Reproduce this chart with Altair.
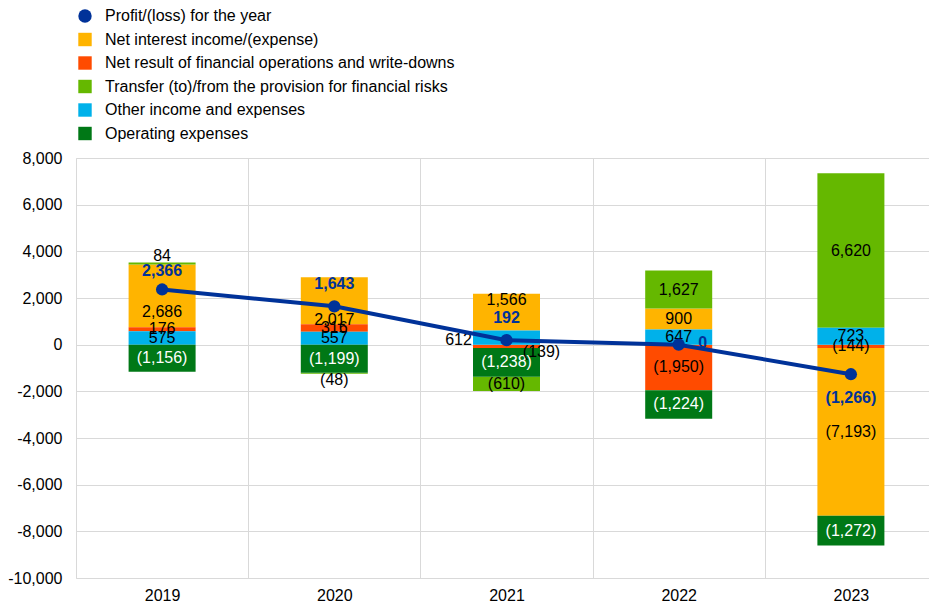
import altair as alt
import pandas as pd

# ---------------- data ----------------
years = ["2019", "2020", "2021", "2022", "2023"]
net_interest = [2686, 2017, 1566, 900, -7193]
net_result_fin_ops = [176, 316, -139, -1950, -144]
transfer_provision = [84, -48, -610, 1627, 6620]
other_income = [575, 557, 612, 647, 723]
operating_expenses = [-1156, -1199, -1238, -1224, -1272]
profit = [2366, 1643, 192, 0, -1266]

S_PROFIT = "Profit/(loss) for the year"
S_NII = "Net interest income/(expense)"
S_NRFO = "Net result of financial operations and write-downs"
S_TRANS = "Transfer (to)/from the provision for financial risks"
S_OTHER = "Other income and expenses"
S_OPEX = "Operating expenses"

legend_order = [S_PROFIT, S_NII, S_NRFO, S_TRANS, S_OTHER, S_OPEX]
colors = ["#003299", "#FFB400", "#FF4B00", "#65B800", "#00B1EA", "#007816"]
shapes = ["circle", "square", "square", "square", "square", "square"]

# stacking order (from zero outwards)
stack_order = {S_OTHER: 0, S_NRFO: 1, S_NII: 2, S_OPEX: 3, S_TRANS: 4}
series_values = {
    S_NII: net_interest,
    S_NRFO: net_result_fin_ops,
    S_TRANS: transfer_provision,
    S_OTHER: other_income,
    S_OPEX: operating_expenses,
}


def fmt(v):
    return f"{v:,}" if v >= 0 else f"({-v:,})"


rows = []
for s, vals in series_values.items():
    for y, v in zip(years, vals):
        rows.append({"year": y, "series": s, "value": v, "order": stack_order[s], "label": fmt(v)})
bars_df = pd.DataFrame(rows)

profit_df = pd.DataFrame({
    "year": years,
    "series": [S_PROFIT] * len(years),
    "value": profit,
    "label": [fmt(v) for v in profit],
})

FONT = "Liberation Sans"
FS = 16

x_enc = alt.X(
    "year:N",
    scale=alt.Scale(domain=years, paddingInner=0, paddingOuter=0, range=[0, 861]),
    axis=alt.Axis(
        title=None, labelAngle=0, ticks=False, domain=False, grid=True,
        tickBand="extent", gridColor="#d9d9d9", labelPadding=9,
        labelFontSize=FS, labelColor="#000000", labelFont=FONT,
    ),
)
y_scale = alt.Scale(domain=[-10000, 8000], nice=False, zero=False)
y_axis = alt.Axis(
    title=None, values=list(range(-10000, 8001, 2000)),
    labelExpr="replace(format(datum.value, ',.0f'), '\u2212', '-')",
    grid=True, gridColor="#d9d9d9", domainColor="#d9d9d9", ticks=False,
    labelPadding=14, labelFontSize=FS, labelColor="#000000", labelFont=FONT,
)
color_scale = alt.Scale(domain=legend_order, range=colors)
shape_scale = alt.Scale(domain=legend_order, range=shapes)

stacked = alt.Chart(bars_df).transform_stack(
    stack="value", groupby=["year"], sort=[alt.SortField("order", "ascending")],
    as_=["y0", "y1"], offset="zero",
).transform_calculate(mid="(datum.y0 + datum.y1) / 2")

bars = stacked.mark_bar(size=67).encode(
    x=x_enc,
    y=alt.Y("y0:Q", scale=y_scale, axis=y_axis),
    y2="y1:Q",
    color=alt.Color("series:N", scale=color_scale, title=None),
)


def seg_labels(filter_expr, dx=0, dy=0):
    return stacked.transform_filter(filter_expr).mark_text(
        dx=dx, dy=dy, fontSize=FS, font=FONT, baseline="middle", align="center"
    ).encode(
        x=alt.X("year:N"),
        y=alt.Y("mid:Q"),
        text="label:N",
        color=alt.condition(alt.datum.series == S_OPEX, alt.value("white"), alt.value("black")),
    )


def is_(year, series):
    return f"(datum.year == '{year}' && datum.series == '{series}')"


exceptions = [
    (is_("2019", S_TRANS), 0, -7),
    (is_("2019", S_NII), 0, 16),
    (is_("2020", S_NII), 0, 19),
    (is_("2020", S_TRANS), 0, 7),
    (is_("2021", S_NII), 0, -12),
    (is_("2021", S_OTHER), -48, 2),
    (is_("2021", S_NRFO), 35, 6),
]
default_filter = "!(" + " || ".join(e[0] for e in exceptions) + ")"
label_layers = [seg_labels(default_filter)] + [seg_labels(f, dx, dy) for f, dx, dy in exceptions]

line = alt.Chart(profit_df).mark_line(strokeWidth=4, color="#003299").encode(
    x=alt.X("year:N"), y=alt.Y("value:Q"),
)
points = alt.Chart(profit_df).mark_point(filled=True, size=150, opacity=1).encode(
    x=alt.X("year:N"),
    y=alt.Y("value:Q"),
    color=alt.Color("series:N", scale=color_scale, title=None),
    shape=alt.Shape("series:N", scale=shape_scale, title=None),
)


def profit_labels(filter_expr, dx=0, dy=0):
    return alt.Chart(profit_df).transform_filter(filter_expr).mark_text(
        dx=dx, dy=dy, fontSize=FS, font=FONT, fontWeight="bold", color="#003299",
        baseline="middle", align="center",
    ).encode(x=alt.X("year:N"), y=alt.Y("value:Q"), text="label:N")


plabels = [
    profit_labels("datum.year == '2019'", 0, -18),
    profit_labels("datum.year == '2020' || datum.year == '2021'", 0, -22),
    profit_labels("datum.year == '2022'", 24, -2),
    profit_labels("datum.year == '2023'", 0, 24),
]

chart = alt.layer(bars, *label_layers, line, points, *plabels).properties(
    width=853, height=420,
    padding={"left": 68, "top": 150, "right": 0, "bottom": 29},
    autosize="none",
).configure_view(stroke=None).configure_legend(
    orient="none", legendX=1, legendY=-150, title=None,
    labelFontSize=FS, labelFont=FONT, labelColor="#000000", labelLimit=0,
    symbolSize=180, rowPadding=7.5, labelOffset=12, padding=0,
    symbolStrokeWidth=0,
)

chart.save("out.html", embed_options={"renderer": "svg", "actions": False})
